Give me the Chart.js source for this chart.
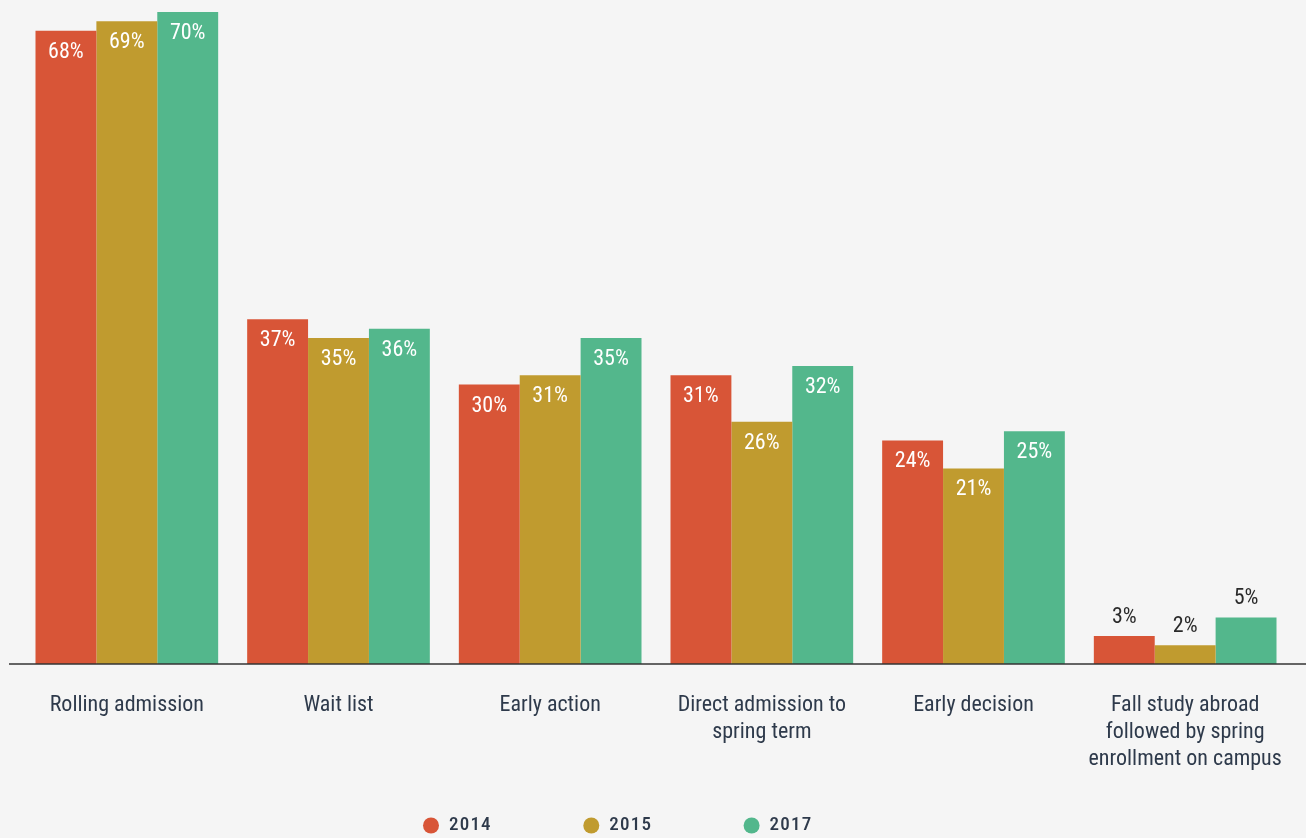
<!DOCTYPE html>
<html>
<head>
<meta charset="utf-8">
<script src="https://cdn.jsdelivr.net/npm/chart.js@4"></script>
<style>
    body { margin: 0; background: #f5f5f5; }
    #wrap { width: 1306px; height: 838px; position: relative; }
</style>
</head>
<body>
<div id="wrap"><canvas id="admissionChart"></canvas></div>
<script>
const categories = [
    "Rolling admission",
    "Wait list",
    "Early action",
    ["Direct admission to", "spring term"],
    "Early decision",
    ["Fall study abroad", "followed by spring", "enrollment on campus"]
]
const years = ["2014", "2015", "2017"]
const values2014 = [68, 37, 30, 31, 24, 3]
const values2015 = [69, 35, 31, 26, 21, 2]
const values2017 = [70, 36, 35, 32, 25, 5]

const barColors = ["#d85537", "#c09b2f", "#53b78c"]
const textColor = "#2e3a4b"
const FONT = "Roboto, sans-serif"
const LEGEND_X = 422.5   // left edge of the first legend item

Chart.defaults.font.family = FONT
// Chart.js glues weight in front of the size, so the stretch rides along here
Chart.defaults.font.weight = "condensed"

// percentages on the bars: white inside tall bars, dark above short ones
const barLabels = {
    id: "barLabels",
    afterDatasetsDraw(chart) {
        const ctx = chart.ctx
        ctx.save()
        ctx.font = "condensed 22px " + FONT
        ctx.textAlign = "center"
        ctx.textBaseline = "middle"
        chart.data.datasets.forEach((ds, i) => {
            chart.getDatasetMeta(i).data.forEach((bar, j) => {
                const v = ds.data[j]
                if (v >= 10) {
                    ctx.fillStyle = "#ffffff"
                    ctx.fillText(v + "%", bar.x, bar.y + 21.5)
                } else {
                    ctx.fillStyle = "#2a2a2a"
                    ctx.fillText(v + "%", bar.x, bar.y - 19)
                }
            })
        })
        // baseline, runs a bit past the plot on both sides
        const y0 = chart.scales.y.getPixelForValue(0)
        ctx.strokeStyle = "#333333"
        ctx.lineWidth = 1.5
        ctx.beginPath()
        ctx.moveTo(9, y0)
        ctx.lineTo(chart.width, y0)
        ctx.stroke()
        ctx.restore()
    }
}

// put the legend where the original has it, space its letters,
// and let the multi-line category labels run below the short x axis box
const layoutTweak = {
    id: "layoutTweak",
    afterLayout(chart) {
        chart.scales.x.bottom = chart.height
        const lg = chart.legend
        if (!lg) return
        const pad = lg.options.labels.padding
        const start = (lg.left + pad + lg.right - lg.lineWidths[0]) / 2
        const dx = LEGEND_X - start
        lg.left += dx
        lg.right += dx
        lg.top += 7
        lg.bottom += 7
        if (!lg._spaced) {
            const draw = lg.draw.bind(lg)
            lg.draw = function () {
                chart.ctx.save()
                chart.ctx.letterSpacing = "1.2px"
                draw()
                chart.ctx.restore()
            }
            lg._spaced = true
        }
    }
}

const admissionChart = new Chart(
    document.getElementById("admissionChart"),
    {
        type: "bar",
        data: {
            labels: categories,
            datasets: [
                { label: years[0], data: values2014, backgroundColor: barColors[0] },
                { label: years[1], data: values2015, backgroundColor: barColors[1] },
                { label: years[2], data: values2017, backgroundColor: barColors[2] }
            ]
        },
        options: {
            responsive: true,
            maintainAspectRatio: false,
            animation: false,
            datasets: {
                bar: {
                    categoryPercentage: 0.863,
                    barPercentage: 1
                }
            },
            layout: {
                padding: { top: 12, left: 21, right: 15, bottom: 0 }
            },
            scales: {
                x: {
                    grid: { display: false, drawTicks: false },
                    border: { display: false },
                    ticks: {
                        color: textColor,
                        padding: 28,
                        maxRotation: 0,
                        autoSkip: false,
                        font: { size: 22, lineHeight: 1.227 }
                    },
                    afterFit(scale) {
                        scale.height = 54
                        scale.paddingLeft = 0
                        scale.paddingRight = 0
                    }
                },
                y: {
                    display: false,
                    min: 0,
                    max: 70
                }
            },
            plugins: {
                tooltip: { enabled: false },
                legend: {
                    position: "bottom",
                    labels: {
                        usePointStyle: true,
                        pointStyle: "circle",
                        boxWidth: 17,
                        boxHeight: 11.3,
                        padding: 91,
                        color: textColor,
                        font: { size: 19, weight: "500 condensed" }
                    }
                }
            }
        },
        plugins: [barLabels, layoutTweak]
    }
)
</script>
</body>
</html>
